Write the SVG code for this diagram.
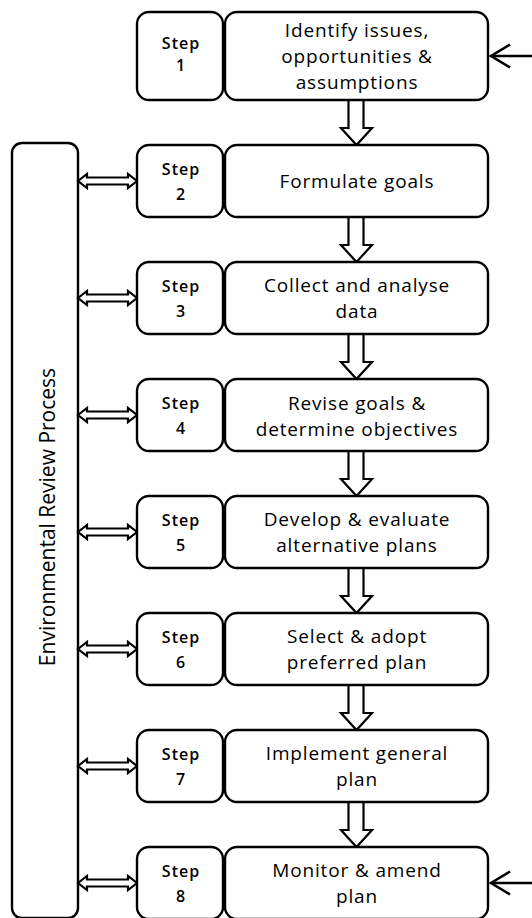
<svg xmlns="http://www.w3.org/2000/svg" width="532" height="918" viewBox="0 0 532 918">
<style>
.box{fill:#fff;stroke:#000;stroke-width:2.4}
.arr{fill:#fff;stroke:#000;stroke-width:2.2;stroke-linejoin:miter}
.line{fill:none;stroke:#000;stroke-width:2.6}
.main{font-family:"Open Sans","Noto Sans",sans-serif;font-size:19px;letter-spacing:0.85px;text-anchor:middle;fill:#000}
.step{font-family:"Open Sans","Noto Sans",sans-serif;font-size:16px;font-weight:600;letter-spacing:1px;text-anchor:middle;fill:#000}
.side{font-family:"Open Sans","Noto Sans",sans-serif;font-size:21px;text-anchor:middle;fill:#000}
</style>
<rect width="532" height="918" fill="#fff"/>
<g id="erp">
<rect class="box" x="12" y="143" width="66" height="775" rx="10"/>
<text class="side" transform="translate(55,517) rotate(-90)">Environmental Review Process</text>
</g>
<g id="connectors">
<polygon class="arr" points="348.5,100 363.5,100 363.5,128 372,128 356.5,145 341,128 348.5,128"/>
<polygon class="arr" points="348.5,217 363.5,217 363.5,245 372,245 356.5,262 341,245 348.5,245"/>
<polygon class="arr" points="348.5,334 363.5,334 363.5,362 372,362 356.5,379 341,362 348.5,362"/>
<polygon class="arr" points="348.5,451 363.5,451 363.5,479 372,479 356.5,496 341,479 348.5,479"/>
<polygon class="arr" points="348.5,568 363.5,568 363.5,596 372,596 356.5,613 341,596 348.5,596"/>
<polygon class="arr" points="348.5,685 363.5,685 363.5,713 372,713 356.5,730 341,713 348.5,713"/>
<polygon class="arr" points="348.5,802 363.5,802 363.5,830 372,830 356.5,847 341,830 348.5,830"/>
<polygon class="arr" points="78,181 87,174 87,177.5 128,177.5 128,174 137,181 128,188 128,184.5 87,184.5 87,188"/>
<polygon class="arr" points="78,298 87,291 87,294.5 128,294.5 128,291 137,298 128,305 128,301.5 87,301.5 87,305"/>
<polygon class="arr" points="78,415 87,408 87,411.5 128,411.5 128,408 137,415 128,422 128,418.5 87,418.5 87,422"/>
<polygon class="arr" points="78,532 87,525 87,528.5 128,528.5 128,525 137,532 128,539 128,535.5 87,535.5 87,539"/>
<polygon class="arr" points="78,649 87,642 87,645.5 128,645.5 128,642 137,649 128,656 128,652.5 87,652.5 87,656"/>
<polygon class="arr" points="78,766 87,759 87,762.5 128,762.5 128,759 137,766 128,773 128,769.5 87,769.5 87,773"/>
<polygon class="arr" points="78,883 87,876 87,879.5 128,879.5 128,876 137,883 128,890 128,886.5 87,886.5 87,890"/>
<line class="line" x1="532" y1="56" x2="491" y2="56"/>
<polyline class="line" points="510,44.5 491,56 510,67.5"/>
<line class="line" x1="532" y1="883" x2="491" y2="883"/>
<polyline class="line" points="510,871.5 491,883 510,894.5"/>
</g>
<g id="step1">
<rect class="box" x="137" y="12" width="86" height="88" rx="12"/>
<rect class="box" x="225" y="12" width="263" height="88" rx="12"/>
<text class="step" x="181" y="49">Step</text>
<text class="step" x="181" y="71">1</text>
<text class="main" x="357" y="37">Identify issues,</text>
<text class="main" x="357" y="63">opportunities &amp;</text>
<text class="main" x="357" y="89">assumptions</text>
</g>
<g id="step2">
<rect class="box" x="137" y="145" width="86" height="72" rx="12"/>
<rect class="box" x="225" y="145" width="263" height="72" rx="12"/>
<text class="step" x="181" y="175">Step</text>
<text class="step" x="181" y="200">2</text>
<text class="main" x="357" y="188">Formulate goals</text>
</g>
<g id="step3">
<rect class="box" x="137" y="262" width="86" height="72" rx="12"/>
<rect class="box" x="225" y="262" width="263" height="72" rx="12"/>
<text class="step" x="181" y="292">Step</text>
<text class="step" x="181" y="317">3</text>
<text class="main" x="357" y="292">Collect and analyse</text>
<text class="main" x="357" y="318">data</text>
</g>
<g id="step4">
<rect class="box" x="137" y="379" width="86" height="72" rx="12"/>
<rect class="box" x="225" y="379" width="263" height="72" rx="12"/>
<text class="step" x="181" y="409">Step</text>
<text class="step" x="181" y="434">4</text>
<text class="main" x="357" y="410">Revise goals &amp;</text>
<text class="main" x="357" y="436">determine objectives</text>
</g>
<g id="step5">
<rect class="box" x="137" y="496" width="86" height="72" rx="12"/>
<rect class="box" x="225" y="496" width="263" height="72" rx="12"/>
<text class="step" x="181" y="526">Step</text>
<text class="step" x="181" y="551">5</text>
<text class="main" x="357" y="526">Develop &amp; evaluate</text>
<text class="main" x="357" y="552">alternative plans</text>
</g>
<g id="step6">
<rect class="box" x="137" y="613" width="86" height="72" rx="12"/>
<rect class="box" x="225" y="613" width="263" height="72" rx="12"/>
<text class="step" x="181" y="643">Step</text>
<text class="step" x="181" y="668">6</text>
<text class="main" x="357" y="643">Select &amp; adopt</text>
<text class="main" x="357" y="669">preferred plan</text>
</g>
<g id="step7">
<rect class="box" x="137" y="730" width="86" height="72" rx="12"/>
<rect class="box" x="225" y="730" width="263" height="72" rx="12"/>
<text class="step" x="181" y="760">Step</text>
<text class="step" x="181" y="785">7</text>
<text class="main" x="357" y="760">Implement general</text>
<text class="main" x="357" y="786">plan</text>
</g>
<g id="step8">
<rect class="box" x="137" y="847" width="86" height="72" rx="12"/>
<rect class="box" x="225" y="847" width="263" height="72" rx="12"/>
<text class="step" x="181" y="877">Step</text>
<text class="step" x="181" y="902">8</text>
<text class="main" x="357" y="877">Monitor &amp; amend</text>
<text class="main" x="357" y="903">plan</text>
</g>
</svg>
